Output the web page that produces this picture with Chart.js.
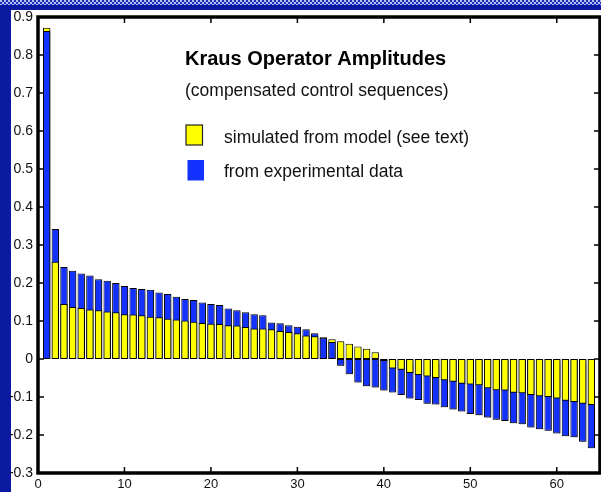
<!DOCTYPE html>
<html>
<head>
<meta charset="utf-8">
<script src="https://cdn.jsdelivr.net/npm/chart.js@4.4.1/dist/chart.umd.min.js"></script>
<style>
  html, body { margin: 0; padding: 0; background: #fff; }
  #wrap { position: relative; width: 601px; height: 492px; overflow: hidden; background: #fff; }
  #left { position: absolute; left: 0; top: 0; width: 11px; height: 492px; background: #0b1aa0; }
  #topbar { position: absolute; left: 0; top: 0; width: 601px; height: 10px; background: #0b1aa0; }
  #check { position: absolute; left: 0; top: 0; width: 601px; height: 5px;
    background: repeating-conic-gradient(#1a30b8 0 25%, #b4bef0 0 50%) 0 0 / 4px 4px; }
  canvas { position: absolute; left: 0; top: 0; }
</style>
</head>
<body>
<div id="wrap">
  <div id="left"></div>
  <div id="topbar"></div>
  <div id="check"></div>
  <canvas id="myChart" width="601" height="492"></canvas>
</div>
<script>
const operators = [1,2,3,4,5,6,7,8,9,10,11,12,13,14,15,16,17,18,19,20,21,22,23,24,25,26,27,28,29,30,31,32,
  33,34,35,36,37,38,39,40,41,42,43,44,45,46,47,48,49,50,51,52,53,54,55,56,57,58,59,60,61,62,63,64];

const simulated = [0.872,0.256,0.145,0.137,0.134,0.130,0.128,0.125,0.123,0.118,
  0.117,0.115,0.111,0.110,0.106,0.104,0.101,0.098,0.095,0.093,
  0.092,0.089,0.088,0.084,0.080,0.080,0.078,0.074,0.071,0.068,
  0.062,0.060,0.057,0.052,0.047,0.040,0.033,0.027,0.018,-0.005,
  -0.025,-0.028,-0.037,-0.042,-0.046,-0.050,-0.056,-0.060,-0.065,-0.067,
  -0.069,-0.077,-0.082,-0.083,-0.089,-0.090,-0.095,-0.098,-0.100,-0.104,
  -0.110,-0.113,-0.118,-0.121];

const experimental = [0.863,0.342,0.242,0.232,0.225,0.220,0.210,0.206,0.200,0.192,
  0.187,0.184,0.182,0.175,0.171,0.164,0.158,0.155,0.149,0.145,
  0.142,0.133,0.128,0.123,0.118,0.115,0.096,0.094,0.089,0.085,
  0.078,0.068,0.056,0.045,-0.018,-0.040,-0.062,-0.072,-0.075,-0.083,
  -0.088,-0.095,-0.104,-0.108,-0.118,-0.120,-0.127,-0.133,-0.138,-0.145,
  -0.148,-0.154,-0.160,-0.163,-0.169,-0.172,-0.180,-0.185,-0.189,-0.196,
  -0.203,-0.206,-0.218,-0.235];

const xTicks = [0,10,20,30,40,50,60];
const yTicks = [0.9,0.8,0.7,0.6,0.5,0.4,0.3,0.2,0.1,0,-0.1,-0.2,-0.3];

const titleText = 'Kraus Operator Amplitudes';
const subtitleText = '(compensated control sequences)';
const legendLabels = ['simulated from model (see text)', 'from experimental data'];

const YELLOW = '#ffff00';
const BLUE = '#1432ff';

// the bar with the larger magnitude sits behind, the smaller one in front
const simBehind = operators.map((_, i) => Math.abs(simulated[i]) >= Math.abs(experimental[i]));
const backData = operators.map((x, i) => ({ x: x, y: simBehind[i] ? simulated[i] : experimental[i] }));
const frontData = operators.map((x, i) => ({ x: x, y: simBehind[i] ? experimental[i] : simulated[i] }));
const backColors = simBehind.map(s => s ? YELLOW : BLUE);
const frontColors = simBehind.map(s => s ? BLUE : YELLOW);

Chart.defaults.font.family = '"Liberation Sans", Arial, Helvetica, sans-serif';
Chart.defaults.color = '#111';

const shadowPlugin = {
  id: 'shadow',
  beforeDatasetsDraw(chart) {
    const ctx = chart.ctx;
    ctx.save();
    ctx.shadowColor = 'rgba(0,0,0,0.35)';
    ctx.shadowOffsetX = 1.5;
    ctx.shadowOffsetY = 1;
    ctx.shadowBlur = 1;
  },
  afterDatasetsDraw(chart) {
    chart.ctx.restore();
  }
};

const framePlugin = {
  id: 'frame',
  afterDraw(chart) {
    const ctx = chart.ctx;
    const a = chart.chartArea;
    const xs = chart.scales.x, ys = chart.scales.y;
    ctx.save();
    ctx.strokeStyle = '#000';
    ctx.lineWidth = 1.5;
    ctx.beginPath();
    yTicks.forEach(v => {
      const py = ys.getPixelForValue(v);
      ctx.moveTo(a.left, py); ctx.lineTo(a.left + 6, py);
      ctx.moveTo(a.right, py); ctx.lineTo(a.right - 6, py);
    });
    xTicks.forEach(v => {
      const px = xs.getPixelForValue(v);
      ctx.moveTo(px, a.bottom); ctx.lineTo(px, a.bottom - 6);
      ctx.moveTo(px, a.top); ctx.lineTo(px, a.top + 6);
    });
    ctx.stroke();
    ctx.lineWidth = 3.5;
    ctx.strokeRect(a.left, a.top, a.right - a.left, a.bottom - a.top);

    // title and legend inside the axes
    ctx.fillStyle = '#000';
    ctx.textAlign = 'left';
    ctx.textBaseline = 'alphabetic';
    ctx.font = 'bold 20px "Liberation Sans", Arial, sans-serif';
    ctx.fillText(titleText, 185, 65);
    ctx.font = '17.5px "Liberation Sans", Arial, sans-serif';
    ctx.fillStyle = '#111';
    ctx.fillText(subtitleText, 185, 96);
    ctx.fillText(legendLabels[0], 224, 142.5);
    ctx.fillText(legendLabels[1], 224, 177);
    ctx.fillStyle = YELLOW;
    ctx.fillRect(186, 125, 16.5, 20);
    ctx.lineWidth = 1.2;
    ctx.strokeStyle = '#222';
    ctx.strokeRect(186, 125, 16.5, 20);
    ctx.fillStyle = BLUE;
    ctx.fillRect(187.5, 160, 16.5, 20.5);
    ctx.restore();
  }
};

new Chart(document.getElementById('myChart'), {
  type: 'bar',
  data: {
    datasets: [
      {
        label: 'back',
        data: backData,
        backgroundColor: backColors,
        borderColor: '#000',
        borderWidth: 1,
        borderSkipped: false,
        order: 2
      },
      {
        label: 'front',
        data: frontData,
        backgroundColor: frontColors,
        borderColor: '#000',
        borderWidth: 1,
        borderSkipped: false,
        order: 1
      }
    ]
  },
  options: {
    responsive: false,
    animation: false,
    layout: { padding: { left: 0, right: 1, top: 17, bottom: 0 } },
    datasets: { bar: { grouped: false, barPercentage: 0.85, categoryPercentage: 1 } },
    scales: {
      x: {
        type: 'linear',
        min: 0,
        max: 65,
        offset: false,
        afterFit(scale) { scale.height = 19; },
        afterBuildTicks(scale) { scale.ticks = xTicks.map(v => ({ value: v })); },
        ticks: { padding: 4, font: { size: 13 }, color: '#111', maxRotation: 0 },
        grid: { display: false, drawTicks: false, offset: false },
        border: { display: false }
      },
      y: {
        type: 'linear',
        min: -0.3,
        max: 0.9,
        afterFit(scale) { scale.width = 38; },
        afterBuildTicks(scale) { scale.ticks = yTicks.map(v => ({ value: v })); },
        ticks: {
          padding: 5,
          font: { size: 14 },
          color: '#111',
          callback: v => String(Math.round(v * 10) / 10)
        },
        grid: { display: false, drawTicks: false },
        border: { display: false }
      }
    },
    plugins: {
      legend: { display: false },
      tooltip: { enabled: false }
    }
  },
  plugins: [shadowPlugin, framePlugin]
});
</script>
</body>
</html>
